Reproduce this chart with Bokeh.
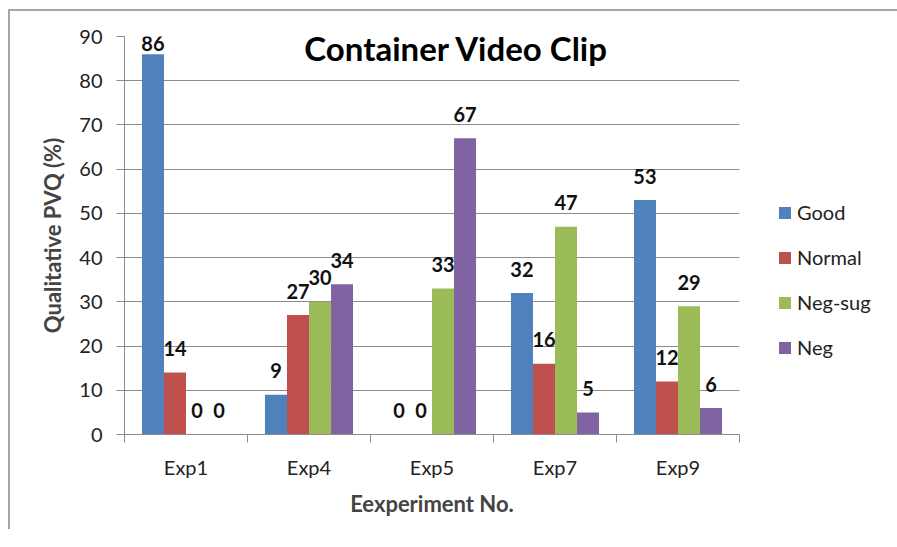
from bokeh.plotting import figure
from bokeh.models import (ColumnDataSource, Range1d, FixedTicker, LabelSet, Label,
                          Legend, LegendItem)
from bokeh.core.properties import value
from bokeh.embed import file_html
from bokeh.resources import INLINE

categories = ["Exp1", "Exp4", "Exp5", "Exp7", "Exp9"]
series_names = ["Good", "Normal", "Neg-sug", "Neg"]
good = [86, 9, 0, 32, 53]
normal = [14, 27, 0, 16, 12]
neg_sug = [0, 30, 33, 47, 29]
neg = [0, 34, 67, 5, 6]
y_ticks = [0, 10, 20, 30, 40, 50, 60, 70, 80, 90]
title_text = "Container Video Clip"
x_title = "Eexperiment No."
y_title = "Qualitative PVQ (%)"

colors = ["#4F81BD", "#C0504D", "#9BBB59", "#8064A2"]
series = [good, normal, neg_sug, neg]

FONT = "Lato"
GRID = "#8c8c8c"

p = figure(frame_width=615, frame_height=398,
           min_border_left=114, min_border_top=25,
           min_border_right=150, min_border_bottom=95,
           x_range=Range1d(0, len(categories)), y_range=Range1d(0, 90),
           output_backend="svg", toolbar_location=None)
p.styles = {"margin-left": "8px", "margin-top": "9px",
            "border-left": "2px solid #a6a6a6", "border-top": "2px solid #a6a6a6"}
p.outline_line_color = None
p.background_fill_color = "white"
p.border_fill_color = "white"

bw = 0.179
n = len(series)
items = []
for k, (vals, name, col) in enumerate(zip(series, series_names, colors)):
    off = (k - (n - 1) / 2) * bw
    xs = [i + 0.5 + off for i in range(len(categories))]
    src = ColumnDataSource(dict(
        x=xs, top=vals,
        ly=[min(v + 5.4, 88.4) for v in vals],
        txt=[str(v) for v in vals]))
    r = p.vbar(x="x", top="top", width=bw, bottom=0, source=src,
               fill_color=col, line_color=None)
    items.append(LegendItem(label=name, renderers=[r]))
    p.add_layout(LabelSet(x="x", y="ly", text="txt", source=src,
                          text_align="center", text_baseline="middle",
                          text_font=value(FONT), text_font_style="bold",
                          text_font_size="20px", text_color="#111111"))

# title inside the plot
p.add_layout(Label(x=2.7, y=87.3, text=title_text, text_align="center",
                   text_baseline="middle", text_font=FONT,
                   text_font_style="bold", text_font_size="33px",
                   text_color="#000000"))

# axes
xa = p.xaxis[0]
xa.ticker = FixedTicker(ticks=[i + 0.5 for i in range(len(categories))],
                        minor_ticks=list(range(len(categories) + 1)))
xa.major_label_overrides = {i + 0.5: c for i, c in enumerate(categories)}
xa.major_tick_out = 0
xa.major_tick_in = 0
xa.minor_tick_out = 8
xa.minor_tick_in = 0
xa.minor_tick_line_color = GRID
xa.major_label_standoff = 12
xa.axis_line_color = GRID
xa.axis_label = x_title
xa.axis_label_text_font = FONT
xa.axis_label_text_font_style = "bold"
xa.axis_label_text_font_size = "22px"
xa.axis_label_standoff = 8
xa.major_label_text_font = FONT
xa.major_label_text_font_size = "20px"
xa.major_label_text_color = "#222222"

ya = p.yaxis[0]
ya.ticker = FixedTicker(ticks=y_ticks)
ya.major_tick_out = 8
ya.major_tick_in = 0
ya.minor_tick_out = 0
ya.minor_tick_in = 0
ya.major_tick_line_color = GRID
ya.axis_line_color = GRID
ya.major_label_standoff = 14
ya.major_label_text_font = FONT
ya.major_label_text_font_size = "20px"
ya.major_label_text_color = "#222222"
ya.axis_label = y_title
ya.axis_label_text_font = FONT
ya.axis_label_text_font_style = "bold"
ya.axis_label_text_font_size = "22px"
ya.axis_label_standoff = 10

p.xgrid.visible = False
p.ygrid.grid_line_color = GRID
p.ygrid.ticker = FixedTicker(ticks=y_ticks)

legend = Legend(items=items, location=(38, 75), orientation="vertical",
                glyph_width=15, glyph_height=15, label_standoff=5,
                spacing=21, padding=0, margin=0, border_line_color=None,
                background_fill_alpha=0,
                label_text_font=FONT, label_text_font_size="20px",
                label_text_color="#222222")
p.add_layout(legend, "right")

open("out.html", "w").write(file_html(p, INLINE))
